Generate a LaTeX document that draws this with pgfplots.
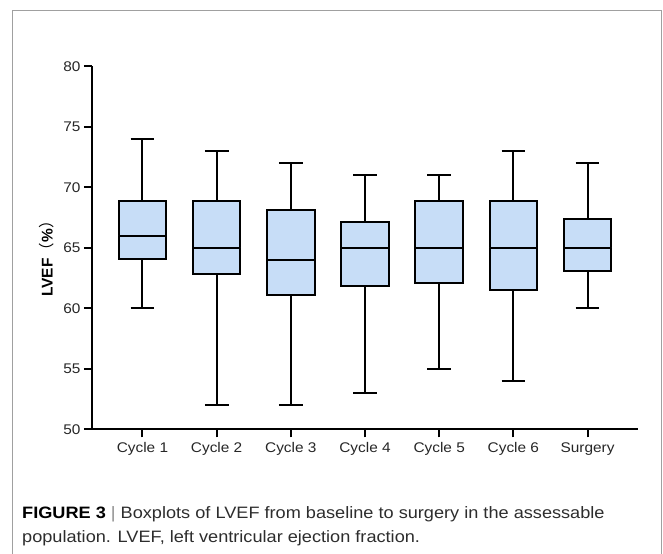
\documentclass[border=0pt]{standalone}
\usepackage{fontspec}
\setmainfont{Liberation Sans}
\newfontfamily\widefont[FakeStretch=1.1]{Liberation Sans}
\newfontfamily\cjk{Noto Sans CJK SC}
\usepackage{pgfplots}
\pgfplotsset{compat=1.18}
\usepgfplotslibrary{statistics}

\definecolor{boxfill}{RGB}{199,221,247}
\definecolor{framegray}{RGB}{160,160,160}
\definecolor{captxt}{RGB}{45,45,45}

% one look for all seven boxes
\pgfplotsset{lvefbox/.style={draw=black, fill=boxfill, line width=2bp, solid, mark=none}}

\begin{document}
\begin{tikzpicture}
\path[use as bounding box] (0,0) rectangle (663bp,554bp);
% figure frame (open at the bottom, as in the page crop)
\draw[framegray, line width=1bp] (12.5bp,0) -- (12.5bp,543bp) -- (661.5bp,543bp) -- (661.5bp,0);

\begin{axis}[
    scale only axis,
    width=546bp, height=363bp,
    at={(92bp,124.7bp)}, anchor=south west,
    xmin=-0.68, xmax=6.68,
    ymin=50, ymax=80,
    axis x line=bottom, axis y line=left,
    axis line style={-, line width=2bp},
    tick style={black, line width=2bp},
    tick align=outside,
    major tick length=8bp,
    xtick={0,1,2,3,4,5,6},
    xticklabels={Cycle 1,Cycle 2,Cycle 3,Cycle 4,Cycle 5,Cycle 6,Surgery},
    ytick={50,55,...,80},
    /pgf/number format/assume math mode=true,
    tick label style={font=\widefont\fontsize{14bp}{16bp}\selectfont, text=black!85},
    xticklabel style={yshift=-2bp},
    ylabel={\bfseries LVEF{\cjk\mdseries （}\%{\cjk\mdseries ）}},
    ylabel style={at={(axis description cs:-0.083,0.48)}, anchor=center,
        font=\fontsize{15.5bp}{17bp}\selectfont},
    boxplot/draw direction=y,
    boxplot/box extend=0.64,
    boxplot/whisker extend=0.32,
    clip=false,
]
\addplot[lvefbox, boxplot prepared={draw position=0,
    lower whisker=60, lower quartile=64.1, median=66, upper quartile=68.9, upper whisker=74}] coordinates {};
\addplot[lvefbox, boxplot prepared={draw position=1,
    lower whisker=52, lower quartile=62.85, median=65, upper quartile=68.9, upper whisker=73}] coordinates {};
\addplot[lvefbox, boxplot prepared={draw position=2,
    lower whisker=52, lower quartile=61.1, median=64, upper quartile=68.1, upper whisker=72}] coordinates {};
\addplot[lvefbox, boxplot prepared={draw position=3,
    lower whisker=53, lower quartile=61.85, median=65, upper quartile=67.15, upper whisker=71}] coordinates {};
\addplot[lvefbox, boxplot prepared={draw position=4,
    lower whisker=55, lower quartile=62.1, median=65, upper quartile=68.9, upper whisker=71}] coordinates {};
\addplot[lvefbox, boxplot prepared={draw position=5,
    lower whisker=54, lower quartile=61.55, median=65, upper quartile=68.9, upper whisker=73}] coordinates {};
\addplot[lvefbox, boxplot prepared={draw position=6,
    lower whisker=60, lower quartile=63.05, median=65, upper quartile=67.35, upper whisker=72}] coordinates {};
\end{axis}

% caption
\node[anchor=base west, inner sep=0, font=\widefont\fontsize{16.5bp}{19bp}\selectfont, text=captxt]
  at (22bp,36bp) {\textbf{\color{black}FIGURE 3}\ {\color{black!45}|}\ Boxplots of LVEF from baseline to surgery in the assessable};
\node[anchor=base west, inner sep=0, font=\widefont\fontsize{16.5bp}{19bp}\selectfont, text=captxt]
  at (22bp,11.5bp) {population. LVEF, left ventricular ejection fraction.};
\end{tikzpicture}
\end{document}
